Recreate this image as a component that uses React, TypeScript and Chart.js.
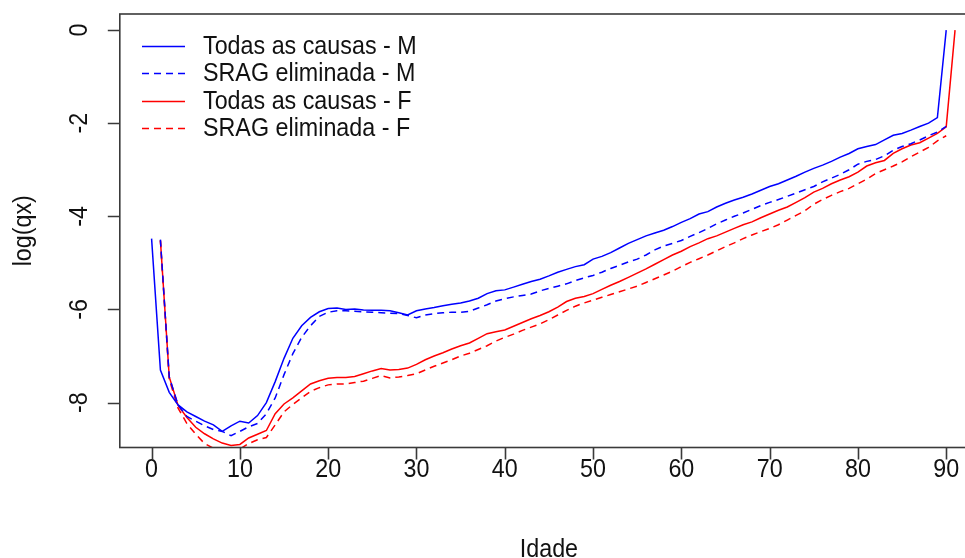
import React, { useEffect, useRef } from "react";
import { Chart, registerables } from "chart.js";

Chart.register(...registerables);

// ---- Data (log(qx)) ----
const mAllStart = 0; // Todas as causas - M plotted at x = 0..90
const mAll = [
  -4.48, -7.30, -7.78, -8.05, -8.20, -8.30, -8.40, -8.48, -8.62, -8.50,
  -8.40, -8.44, -8.28, -8.00, -7.55, -7.05, -6.62, -6.35, -6.17, -6.05,
  -5.98, -5.97, -6.00, -5.99, -6.01, -6.02, -6.02, -6.03, -6.07, -6.12,
  -6.03, -5.99, -5.96, -5.92, -5.89, -5.86, -5.82, -5.76, -5.66, -5.60,
  -5.58, -5.52, -5.46, -5.40, -5.35, -5.28, -5.20, -5.14, -5.08, -5.04,
  -4.92, -4.86, -4.78, -4.68, -4.58, -4.50, -4.42, -4.36, -4.30, -4.22,
  -4.13, -4.05, -3.95, -3.90, -3.80, -3.72, -3.65, -3.59, -3.52, -3.44,
  -3.36, -3.30, -3.22, -3.14, -3.05, -2.97, -2.90, -2.82, -2.73, -2.65,
  -2.55, -2.50, -2.46, -2.36, -2.26, -2.22, -2.15, -2.07, -2.00, -1.88,
  0,
];

const mSragStart = 1; // SRAG eliminada - M plotted at x = 1..90
const mSrag = [
  -4.50, -7.45, -8.05, -8.30, -8.40, -8.50, -8.58, -8.62, -8.71, -8.62,
  -8.52, -8.45, -8.24, -7.90, -7.40, -6.95, -6.60, -6.35, -6.15, -6.06,
  -6.03, -6.03, -6.04, -6.05, -6.06, -6.07, -6.08, -6.09, -6.13, -6.18,
  -6.12, -6.09, -6.07, -6.06, -6.06, -6.04, -5.97, -5.90, -5.82, -5.77,
  -5.73, -5.70, -5.67, -5.60, -5.55, -5.50, -5.45, -5.38, -5.32, -5.27,
  -5.20, -5.12, -5.05, -4.98, -4.92, -4.83, -4.72, -4.64, -4.58, -4.52,
  -4.43, -4.35, -4.26, -4.16, -4.08, -4.00, -3.93, -3.85, -3.77, -3.70,
  -3.64, -3.57, -3.50, -3.43, -3.36, -3.26, -3.18, -3.10, -3.00, -2.88,
  -2.82, -2.78, -2.70, -2.58, -2.50, -2.44, -2.36, -2.27, -2.19, -2.07,
];

const fAllStart = 1; // Todas as causas - F plotted at x = 1..91
const fAll = [
  -4.52, -7.45, -8.06, -8.32, -8.53, -8.67, -8.78, -8.87, -8.92, -8.90,
  -8.76, -8.68, -8.60, -8.24, -8.03, -7.90, -7.75, -7.60, -7.53, -7.48,
  -7.46, -7.46, -7.44, -7.38, -7.32, -7.27, -7.30, -7.29, -7.26, -7.18,
  -7.08, -7.00, -6.93, -6.85, -6.78, -6.72, -6.62, -6.52, -6.48, -6.44,
  -6.36, -6.28, -6.20, -6.13, -6.05, -5.95, -5.83, -5.76, -5.72, -5.66,
  -5.57, -5.48, -5.40, -5.31, -5.22, -5.13, -5.03, -4.93, -4.83, -4.75,
  -4.65, -4.57, -4.48, -4.42, -4.34, -4.26, -4.18, -4.12, -4.03, -3.95,
  -3.87, -3.80, -3.70, -3.60, -3.48, -3.40, -3.30, -3.22, -3.15, -3.05,
  -2.92, -2.85, -2.80, -2.65, -2.55, -2.47, -2.42, -2.32, -2.22, -2.08,
  0,
];

const fSragStart = 1; // SRAG eliminada - F plotted at x = 1..90
const fSrag = [
  -4.52, -7.50, -8.12, -8.45, -8.68, -8.88, -8.98, -9.03, -9.05, -9.00,
  -8.88, -8.80, -8.75, -8.48, -8.20, -8.04, -7.90, -7.76, -7.68, -7.62,
  -7.60, -7.60, -7.57, -7.54, -7.48, -7.42, -7.47, -7.45, -7.42, -7.38,
  -7.30, -7.22, -7.15, -7.08, -7.00, -6.94, -6.86, -6.78, -6.68, -6.60,
  -6.53, -6.45, -6.38, -6.31, -6.22, -6.12, -6.02, -5.93, -5.86, -5.80,
  -5.74, -5.68, -5.62, -5.56, -5.50, -5.42, -5.34, -5.26, -5.18, -5.08,
  -4.99, -4.91, -4.83, -4.74, -4.65, -4.57, -4.48, -4.40, -4.33, -4.26,
  -4.18, -4.08, -3.98, -3.88, -3.74, -3.64, -3.55, -3.47, -3.40, -3.30,
  -3.20, -3.08, -3.00, -2.92, -2.83, -2.72, -2.62, -2.52, -2.38, -2.27,
];

const xTicks = [0, 10, 20, 30, 40, 50, 60, 70, 80, 90];
const yTicks = [0, -2, -4, -6, -8];
const legendLabels = [
  "Todas as causas - M",
  "SRAG eliminada - M",
  "Todas as causas - F",
  "SRAG eliminada - F",
];
const titleText = "Log das probabilidades de morte por sexo, Brasil 2021";
const xTitle = "Idade";
const yTitle = "log(qx)";

const BLUE = "#0000ff";
const RED = "#ff0000";
const DASH = [7, 5];
const FONT = "'Liberation Sans', Arial, sans-serif";
const FS = 23.3;
const VS = 1.08; // vertical stretch of text

const toPoints = (vals: number[], start: number) =>
  vals.map((v, i) => ({ x: start + i, y: v }));

function stretchedText(
  ctx: CanvasRenderingContext2D,
  text: string,
  x: number,
  y: number,
  rot: number
) {
  ctx.save();
  ctx.translate(x, y);
  if (rot) ctx.rotate(rot);
  ctx.scale(1, VS);
  ctx.fillText(text, 0, 0);
  ctx.restore();
}

const rDecor = {
  id: "rDecor",
  afterDraw(chart: any) {
    const ctx = chart.ctx as CanvasRenderingContext2D;
    const { left, right, top, bottom } = chart.chartArea;
    const xs = chart.scales.x;
    const ys = chart.scales.y;
    ctx.save();
    // box
    ctx.strokeStyle = "#3a3a3a";
    ctx.lineWidth = 1.6;
    ctx.strokeRect(left, top, right - left, bottom - top);
    // ticks
    ctx.beginPath();
    xTicks.forEach((t) => {
      const px = Math.round(xs.getPixelForValue(t)) + 0.5;
      ctx.moveTo(px, bottom);
      ctx.lineTo(px, bottom + 12);
    });
    yTicks.forEach((t) => {
      const py = Math.round(ys.getPixelForValue(t)) + 0.5;
      ctx.moveTo(left, py);
      ctx.lineTo(left - 12, py);
    });
    ctx.stroke();

    ctx.fillStyle = "#111";
    ctx.font = `${FS}px ${FONT}`;
    ctx.textAlign = "center";
    ctx.textBaseline = "alphabetic";
    // x tick labels
    xTicks.forEach((t) => {
      stretchedText(ctx, String(t), xs.getPixelForValue(t), 477, 0);
    });
    // y tick labels rotated
    yTicks.forEach((t) => {
      ctx.save();
      ctx.translate(87, ys.getPixelForValue(t));
      ctx.rotate(-Math.PI / 2);
      ctx.scale(1, VS);
      ctx.fillText(String(t), 0, 0);
      ctx.restore();
    });
    // axis titles
    stretchedText(ctx, xTitle, (left + right) / 2, 557, 0);
    ctx.save();
    ctx.translate(31, (top + bottom) / 2);
    ctx.rotate(-Math.PI / 2);
    ctx.scale(1, VS);
    ctx.fillText(yTitle, 0, 0);
    ctx.restore();

    // title (mostly cropped above the view)
    ctx.font = `bold 26px ${FONT}`;
    ctx.textBaseline = "alphabetic";
    ctx.fillText(titleText, (left + right) / 2, -4.8);

    // legend
    const rows = [46, 73, 101, 128];
    const styles = [
      { c: BLUE, d: [] as number[] },
      { c: BLUE, d: DASH },
      { c: RED, d: [] as number[] },
      { c: RED, d: DASH },
    ];
    ctx.font = `${FS}px ${FONT}`;
    legendLabels.forEach((lab, i) => {
      const y = rows[i] + 0.5;
      ctx.strokeStyle = styles[i].c;
      ctx.lineWidth = 1.5;
      ctx.setLineDash(styles[i].d);
      ctx.beginPath();
      ctx.moveTo(142, y);
      ctx.lineTo(185, y);
      ctx.stroke();
      ctx.setLineDash([]);
      ctx.fillStyle = "#111";
      ctx.textAlign = "left";
      ctx.textBaseline = "middle";
      stretchedText(ctx, lab, 203, rows[i] + 1, 0);
    });
    ctx.restore();
  },
};

export default function App() {
  const ref = useRef<HTMLCanvasElement | null>(null);
  useEffect(() => {
    if (!ref.current) return;
    const W = 1000;
    const H = 558;
    const mk = (label: string, data: any[], color: string, dash: number[]) => ({
      label,
      data,
      borderColor: color,
      borderWidth: 1.5,
      borderDash: dash,
      pointRadius: 0,
      fill: false,
      tension: 0,
    });
    const chart = new Chart(ref.current, {
      type: "line",
      data: {
        datasets: [
          mk(legendLabels[0], toPoints(mAll, mAllStart), BLUE, []),
          mk(legendLabels[1], toPoints(mSrag, mSragStart), BLUE, DASH),
          mk(legendLabels[2], toPoints(fAll, fAllStart), RED, []),
          mk(legendLabels[3], toPoints(fSrag, fSragStart), RED, DASH),
        ],
      },
      options: {
        responsive: false,
        animation: false,
        layout: { padding: { left: 119.8, right: W - 978, top: 14, bottom: H - 447.5 } },
        plugins: { legend: { display: false }, tooltip: { enabled: false }, title: { display: false } },
        scales: {
          x: { type: "linear", min: -3.6, max: 93.6, display: false },
          y: { type: "linear", min: -8.965, max: 0.345, display: false },
        },
      },
      plugins: [rDecor],
    });
    return () => chart.destroy();
  }, []);
  return (
    <div style={{ position: "fixed", left: 0, top: 0, width: "100vw", height: "100vh", overflow: "hidden", background: "#fff" }}>
      <canvas ref={ref} width={1000} height={558} style={{ position: "absolute", left: 0, top: 0, width: 1000, height: 558 }} />
    </div>
  );
}
